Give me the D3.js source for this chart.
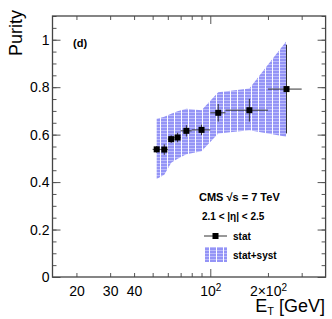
<!doctype html>
<html>
<head>
<style>
  body { margin: 0; background: #fff; }
  svg text { font-family: "Liberation Sans", Arial, sans-serif; }
  .axis path { display: none; }
  .axis line { stroke: #555; }
  .axis text { font-size: 14px; fill: #000; }
</style>
<script src="https://d3js.org/d3.v7.min.js"></script>
</head>
<body>
<svg id="svg" width="332" height="319"></svg>
<script>
// bins in E_T (GeV) and purity values
var binLow   = [50, 55, 60, 65, 70, 80, 100, 120, 200];
var binHigh  = [55, 60, 65, 70, 80, 100, 120, 200, 300];
var etCenter = [52.5, 57.5, 62.5, 67.5, 75, 90, 110, 160, 250];
var purity   = [0.538, 0.537, 0.581, 0.588, 0.616, 0.620, 0.692, 0.703, 0.792];
var statErr  = [0.014, 0.022, 0.016, 0.020, 0.024, 0.022, 0.037, 0.048, 0.187];
var bandLow  = [0.413, 0.431, 0.481, 0.498, 0.517, 0.530, 0.605, 0.619, 0.591];
var bandHigh = [0.667, 0.675, 0.688, 0.699, 0.709, 0.703, 0.779, 0.794, 0.995];

var yMajor = [0, 0.2, 0.4, 0.6, 0.8, 1];
var yMinor = d3.range(0, 1.1001, 0.05);
var xLabelTicks = [20, 30, 40, 100, 200];
var xMinor = [20, 30, 40, 50, 60, 70, 80, 90, 200, 300];

var svg = d3.select("#svg");
var pLeft = 52.5, pRight = 325.6, pTop = 16, pBottom = 277;

var x = d3.scaleLog().domain([15, 400]).range([pLeft, pRight]);
var y = d3.scaleLinear().domain([0, 1.1]).range([pBottom, pTop]);

// hatch-like fill for stat+syst band
var defs = svg.append("defs");
var pat = defs.append("pattern")
    .attr("id", "hatch")
    .attr("patternUnits", "userSpaceOnUse")
    .attr("width", 7).attr("height", 3);
pat.append("rect").attr("width", 7).attr("height", 3).attr("fill", "#9494f6");
pat.append("rect").attr("x", 0).attr("y", 1).attr("width", 6).attr("height", 1).attr("fill", "#bcbcfb");
pat.append("rect").attr("x", 6).attr("y", 0).attr("width", 1).attr("height", 3).attr("fill", "#ffffff");

var pts = etCenter.map(function(d, i) {
    return {x: d, y: purity[i], e: statErr[i], lo: binLow[i], hi: binHigh[i], bl: bandLow[i], bh: bandHigh[i]};
});

var area = d3.area()
    .x(function(d) { return x(d.x); })
    .y0(function(d) { return y(d.bl); })
    .y1(function(d) { return y(d.bh); });

svg.append("path").datum(pts)
    .attr("d", area)
    .attr("fill", "url(#hatch)");

// axes (ticks pointing inward on all four sides)
svg.append("g").attr("class", "axis")
    .attr("transform", "translate(" + pLeft + ",0)")
    .call(d3.axisLeft(y).tickValues(yMajor).tickSize(-8).tickPadding(3)
        .tickFormat(function(d) { return String(+d.toFixed(1)); }));
svg.append("g").attr("class", "axis")
    .attr("transform", "translate(" + pLeft + ",0)")
    .call(d3.axisLeft(y).tickValues(yMinor).tickSize(-4).tickFormat(""));
svg.append("g").attr("class", "axis")
    .attr("transform", "translate(" + pRight + ",0)")
    .call(d3.axisRight(y).tickValues(yMajor).tickSize(-8).tickFormat(""));
svg.append("g").attr("class", "axis")
    .attr("transform", "translate(" + pRight + ",0)")
    .call(d3.axisRight(y).tickValues(yMinor).tickSize(-4).tickFormat(""));

svg.append("g").attr("class", "axis")
    .attr("transform", "translate(0," + pBottom + ")")
    .call(d3.axisBottom(x).tickValues(xMinor).tickSize(-4).tickFormat(""));
svg.append("g").attr("class", "axis")
    .attr("transform", "translate(0," + pBottom + ")")
    .call(d3.axisBottom(x).tickValues([100]).tickSize(-8).tickFormat(""));
svg.append("g").attr("class", "axis")
    .attr("transform", "translate(0," + pTop + ")")
    .call(d3.axisTop(x).tickValues(xMinor).tickSize(-4).tickFormat(""));
svg.append("g").attr("class", "axis")
    .attr("transform", "translate(0," + pTop + ")")
    .call(d3.axisTop(x).tickValues([100]).tickSize(-8).tickFormat(""));

var xl = svg.append("g").attr("class", "axis")
    .attr("transform", "translate(0," + pBottom + ")")
    .call(d3.axisBottom(x).tickValues(xLabelTicks).tickSize(0).tickPadding(9).tickFormat(""));
xl.selectAll(".tick text").each(function(d) {
    var t = d3.select(this);
    if (d === 100) {
        t.append("tspan").text("10");
        t.append("tspan").attr("dy", -5).attr("font-size", 10).text("2");
    } else if (d === 200) {
        t.append("tspan").text("2\u00d710");
        t.append("tspan").attr("dy", -5).attr("font-size", 10).text("2");
    } else {
        t.text(d);
    }
});

// frame
svg.append("rect")
    .attr("x", pLeft).attr("y", pTop)
    .attr("width", pRight - pLeft).attr("height", pBottom - pTop)
    .attr("fill", "none").attr("stroke", "#444").attr("stroke-width", 1.3);

// error bars and markers
var g = svg.append("g").attr("stroke", "#333").attr("stroke-width", 1);
g.selectAll(".xe").data(pts).enter().append("line")
    .attr("x1", function(d) { return x(d.lo); })
    .attr("x2", function(d) { return x(d.hi); })
    .attr("y1", function(d) { return y(d.y); })
    .attr("y2", function(d) { return y(d.y); });
g.selectAll(".ye").data(pts).enter().append("line")
    .attr("x1", function(d) { return x(d.x); })
    .attr("x2", function(d) { return x(d.x); })
    .attr("y1", function(d) { return y(d.y - d.e); })
    .attr("y2", function(d) { return y(d.y + d.e); });
svg.selectAll(".pt").data(pts).enter().append("rect")
    .attr("x", function(d) { return x(d.x) - 3; })
    .attr("y", function(d) { return y(d.y) - 3; })
    .attr("width", 6).attr("height", 6)
    .attr("fill", "#000");

// axis titles
svg.append("text")
    .attr("transform", "translate(22,10) rotate(-90)")
    .attr("text-anchor", "end")
    .attr("font-size", 18)
    .text("Purity");
var xt = svg.append("text")
    .attr("x", 325).attr("y", 312)
    .attr("text-anchor", "end")
    .attr("font-size", 18);
xt.append("tspan").text("E");
xt.append("tspan").attr("dy", 3).attr("font-size", 11).text("T");
xt.append("tspan").attr("dy", -3).text(" [GeV]");

// annotations
svg.append("text").attr("x", 73).attr("y", 47)
    .attr("font-size", 11).attr("font-weight", "bold").text("(d)");
svg.append("text").attr("x", 199).attr("y", 200.5)
    .attr("font-size", 11).attr("font-weight", "bold").text("CMS  \u221as = 7 TeV");
svg.append("text").attr("x", 202).attr("y", 219.5)
    .attr("font-size", 10).attr("font-weight", "bold").text("2.1 < |\u03b7| < 2.5");

// legend
svg.append("line").attr("x1", 204).attr("x2", 227).attr("y1", 236).attr("y2", 236)
    .attr("stroke", "#333").attr("stroke-width", 1);
svg.append("rect").attr("x", 212.5).attr("y", 233).attr("width", 6).attr("height", 6).attr("fill", "#000");
svg.append("text").attr("x", 233).attr("y", 239.5)
    .attr("font-size", 10).attr("font-weight", "bold").text("stat");
svg.append("rect").attr("x", 205).attr("y", 247).attr("width", 22).attr("height", 15)
    .attr("fill", "url(#hatch)");
svg.append("text").attr("x", 233).attr("y", 258.5)
    .attr("font-size", 10).attr("font-weight", "bold").text("stat+syst");
</script>
</body>
</html>
